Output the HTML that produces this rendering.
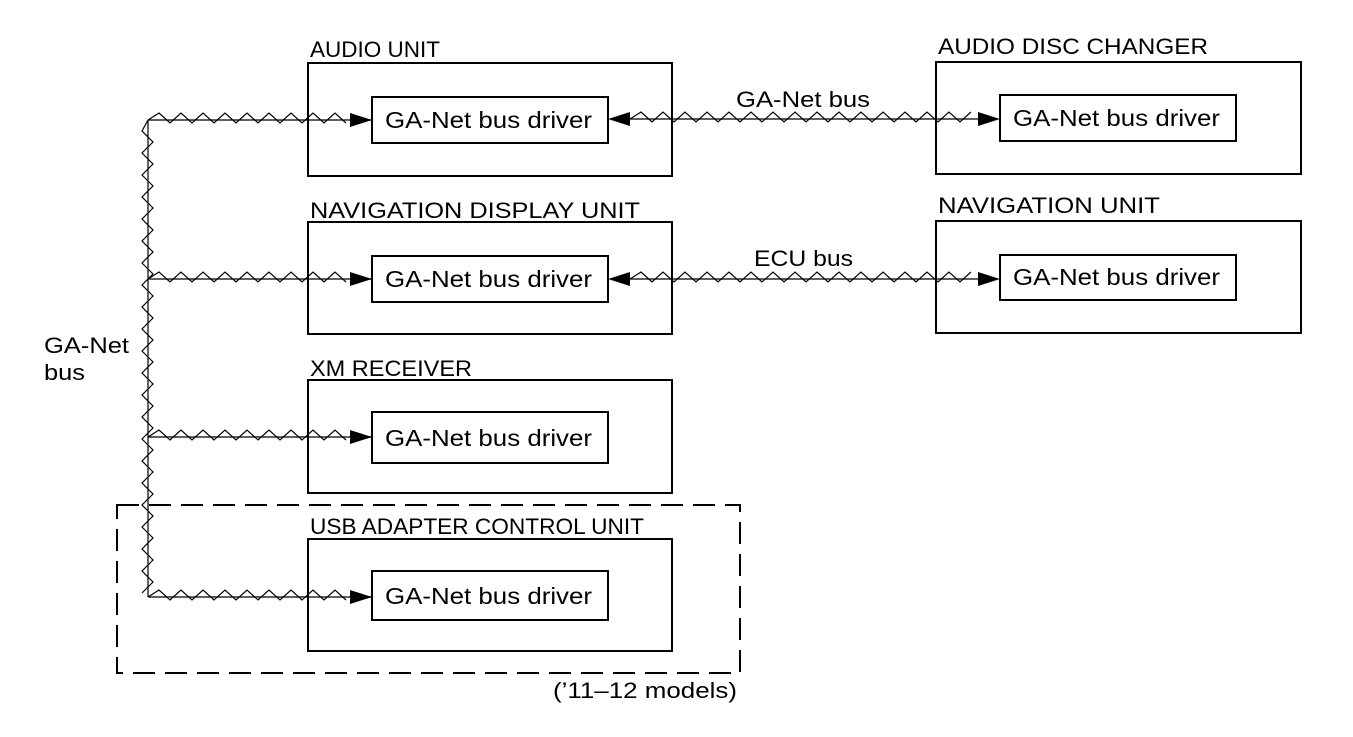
<!DOCTYPE html>
<html><head><meta charset="utf-8"><style>
html,body{margin:0;padding:0;background:#fff;}
svg{display:block;}
text{font-family:"Liberation Sans",Arial,sans-serif;font-size:22px;fill:#000;}
.d{font-size:23px;}
</style></head><body>
<svg id="s" width="1353" height="737" viewBox="0 0 1353 737" xmlns="http://www.w3.org/2000/svg">
<g fill="none" stroke="#000" stroke-width="2">
<rect x="308" y="63" width="364" height="113"/>
<rect x="372" y="97" width="236" height="46"/>
<rect x="936" y="62" width="365" height="112"/>
<rect x="1000" y="95" width="236" height="46"/>
<rect x="308" y="222" width="364" height="112"/>
<rect x="372" y="256" width="236" height="46"/>
<rect x="936" y="221" width="365" height="112"/>
<rect x="1000" y="255" width="236" height="45"/>
<rect x="308" y="380" width="364" height="113"/>
<rect x="372" y="412" width="236" height="51"/>
<rect x="308" y="539" width="364" height="112"/>
<rect x="372" y="571" width="236" height="49"/>
<rect x="117" y="505" width="623" height="168" stroke-dasharray="22,10"/>
</g>
<g id="z" fill="none" stroke="#000" stroke-width="1.2"></g>
<g id="a" fill="#000"></g>
<text x="310" y="57" textLength="130" lengthAdjust="spacingAndGlyphs">AUDIO UNIT</text>
<text x="938" y="54" textLength="270" lengthAdjust="spacingAndGlyphs">AUDIO DISC CHANGER</text>
<text x="310" y="218" textLength="330" lengthAdjust="spacingAndGlyphs">NAVIGATION DISPLAY UNIT</text>
<text x="938" y="213" textLength="222" lengthAdjust="spacingAndGlyphs">NAVIGATION UNIT</text>
<text x="310" y="376" textLength="162" lengthAdjust="spacingAndGlyphs">XM RECEIVER</text>
<text x="310" y="534" textLength="334" lengthAdjust="spacingAndGlyphs">USB ADAPTER CONTROL UNIT</text>
<text class="d" x="385" y="128" textLength="207" lengthAdjust="spacingAndGlyphs">GA-Net bus driver</text>
<text class="d" x="1013" y="126" textLength="207" lengthAdjust="spacingAndGlyphs">GA-Net bus driver</text>
<text class="d" x="385" y="287" textLength="207" lengthAdjust="spacingAndGlyphs">GA-Net bus driver</text>
<text class="d" x="1013" y="285" textLength="207" lengthAdjust="spacingAndGlyphs">GA-Net bus driver</text>
<text class="d" x="385" y="446" textLength="207" lengthAdjust="spacingAndGlyphs">GA-Net bus driver</text>
<text class="d" x="385" y="604" textLength="207" lengthAdjust="spacingAndGlyphs">GA-Net bus driver</text>
<text x="736" y="107" textLength="134" lengthAdjust="spacingAndGlyphs">GA-Net bus</text>
<text x="754" y="266" textLength="99" lengthAdjust="spacingAndGlyphs">ECU bus</text>
<text x="44" y="353" textLength="85" lengthAdjust="spacingAndGlyphs">GA-Net</text>
<text x="44" y="380" textLength="41" lengthAdjust="spacingAndGlyphs">bus</text>
<text x="553" y="698" textLength="184" lengthAdjust="spacingAndGlyphs">(’11–12 models)</text>
</svg>
<script>
var z=document.getElementById('z'),a=document.getElementById('a'),NS="http://www.w3.org/2000/svg";
function el(t,at,p){var e=document.createElementNS(NS,t);for(var k in at)e.setAttribute(k,at[k]);p.appendChild(e);}
function hz(x1,x2,y){el('line',{x1:x1,y1:y,x2:x2,y2:y},z);var d="M"+x1+" "+y,s=1;for(var x=x1+11;x<=x2;x+=11){d+=" L"+x+" "+(y+(s?-7:3));s=!s;}el('path',{d:d},z);}
function vt(x,y1,y2){el('line',{x1:x,y1:y1,x2:x,y2:y2},z);var d="M"+x+" "+y1,s=1;for(var y=y1+11;y<=y2;y+=11){d+=" L"+(x+(s?-6:5))+" "+y;s=!s;}el('path',{d:d},z);}
function ar(x,y,dir){var p=dir>0?(x-22)+","+(y-7)+" "+x+","+y+" "+(x-22)+","+(y+7):(x+22)+","+(y-7)+" "+x+","+y+" "+(x+22)+","+(y+7);el('polygon',{points:p},a);}
vt(148,120,597);
[120,279,437,597].forEach(function(y){hz(148,350,y);el('line',{x1:350,y1:y,x2:372,y2:y,stroke:'#000','stroke-width':1.5},z);ar(372,y,1);});
hz(630,980,119);ar(608,119,-1);ar(1000,119,1);
hz(630,980,279);ar(608,279,-1);ar(1000,279,1);
</script>
</body></html>
